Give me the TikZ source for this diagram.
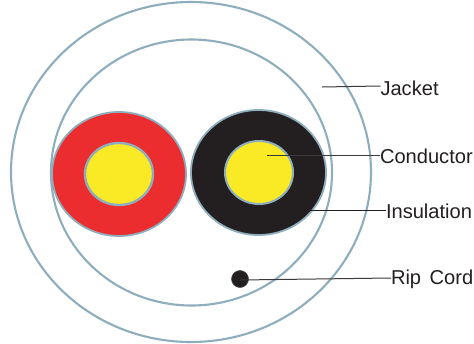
\documentclass[tikz,border=0pt]{standalone}
\usepackage{fontspec}
\setmainfont{Liberation Sans}
\usetikzlibrary{shapes.geometric}
\definecolor{ringc}{HTML}{8FAEBD}
\definecolor{redc}{HTML}{EC2D2F}
\definecolor{yelc}{HTML}{F9EA25}
\definecolor{blkc}{HTML}{231F20}
\definecolor{leadc}{HTML}{3A3A3A}
\tikzset{
  disc/.style={ellipse,draw=ringc,inner sep=0pt,outer sep=0pt,line width=#1},
  disc/.default=2.1pt,
  lbl/.style={anchor=west,inner sep=0pt,outer sep=0pt,text=blkc,font=\fontsize{20.1}{22}\selectfont},
  lead/.style={draw=leadc,line width=1pt}
}
\begin{document}
\begin{tikzpicture}[x=1pt,y=-1pt]
\useasboundingbox[fill=white] (0,0) rectangle (474,343);
\node[disc,minimum width=360pt,minimum height=340pt] (jacketring) at (191,172) {};
\node[disc,minimum width=281pt,minimum height=266pt] (innerring) at (191.5,172.5) {};
\node[disc=1.8pt,fill=redc,minimum width=134pt,minimum height=124pt] (redins) at (119,174) {};
\node[disc=2.4pt,fill=yelc,minimum width=68pt,minimum height=62pt] (redcore) at (119,174) {};
\node[disc=1.8pt,fill=blkc,minimum width=135pt,minimum height=125pt] (blkins) at (258.5,172.5) {};
\node[disc=2pt,fill=yelc,minimum width=68pt,minimum height=63pt] (blkcore) at (259,172.5) {};
\node[circle,fill=blkc,draw=ringc!35!blkc,line width=0.6pt,minimum size=17pt,inner sep=0pt] (rip) at (240,279) {};
\node[lbl] (jacket) at (380.5,88) {Jacket};
\node[lbl] (conductor) at (380,156.5) {Conductor};
\node[lbl] (insulation) at (386,211) {Insulation};
\node[lbl] (ripcord) at (391,279) {Rip\hspace{3pt} Cord};
\coordinate (jacketend) at (322,87);
\coordinate (condend) at (267,155);
\coordinate (insend) at (310,210);
\draw[lead] (jacketend) -- (jacket.west |- 0,86);
\draw[lead] (condend) -- (conductor.west |- 0,155);
\draw[lead,draw=blkc] (insend) -- (insulation.west |- 0,210);
\draw[lead] (rip.center) ++(0,1) -- (ripcord.west |- 0,278);
\end{tikzpicture}
\end{document}
